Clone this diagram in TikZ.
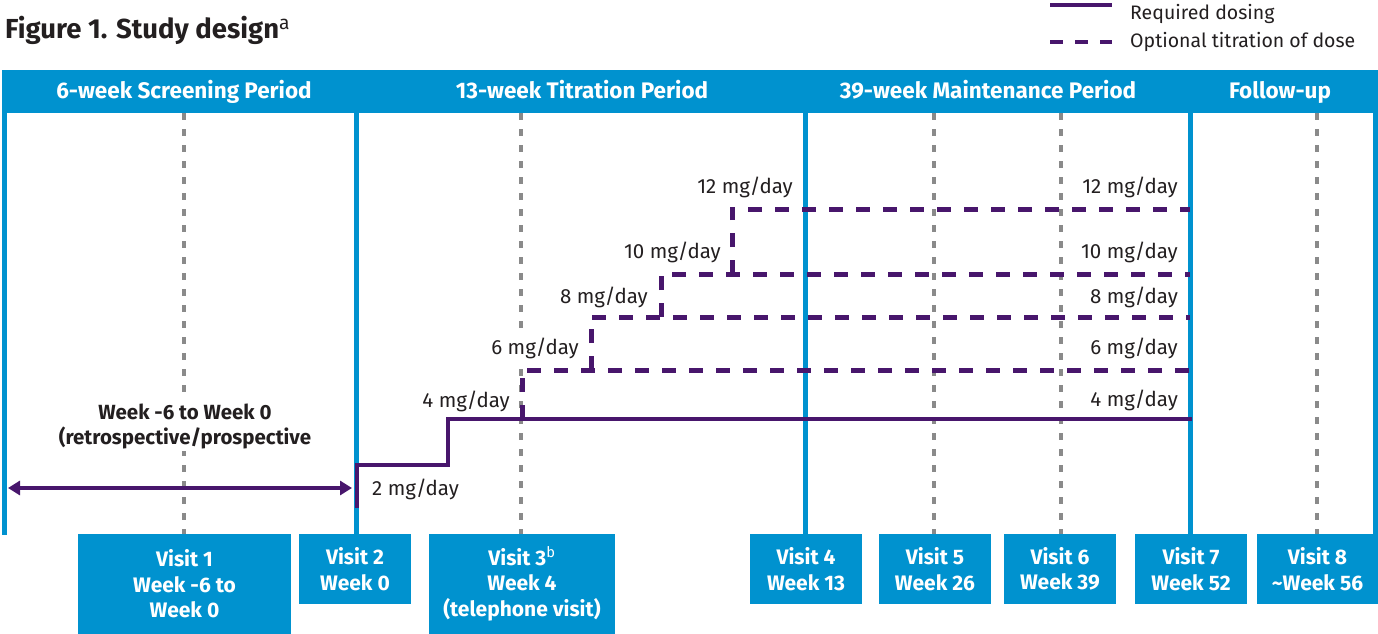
\documentclass[tikz,border=0pt]{standalone}
\usepackage{fontspec}
\setmainfont{Fira Sans}
\usetikzlibrary{arrows.meta}

\definecolor{studyblue}{RGB}{0,146,207}
\definecolor{dosepurple}{RGB}{72,22,108}
\definecolor{visitgray}{RGB}{138,138,138}
\definecolor{ink}{RGB}{35,31,32}

\begin{document}
\begin{tikzpicture}[
  x = 1pt,
  y = -1pt,
  period/.style = {
    text = white,
    font = \bfseries\fontsize{22.5}{25}\selectfont,
    anchor = base
  },
  visit/.style = {
    fill = studyblue,
    text = white,
    font = \bfseries\fontsize{21}{25.5}\selectfont,
    align = center,
    inner sep = 0pt,
    minimum height = #1
  },
  dose/.style = {
    text = ink,
    fill = white,
    font = \fontsize{20.5}{24}\selectfont,
    anchor = base east,
    inner xsep = 0pt,
    inner ysep = 2pt
  },
  divider/.style = {
    draw = studyblue,
    line width = 5pt
  },
  visitline/.style = {
    draw = visitgray,
    line width = 4pt,
    dash pattern = on 7pt off 9pt
  },
  required/.style = {
    draw = dosepurple,
    line width = 4.5pt
  },
  optional/.style = {
    draw = dosepurple,
    line width = 5pt,
    dash pattern = on 14pt off 13pt
  }
]
  \useasboundingbox (0, 0) rectangle (1378, 634);

  % title and legend
  \node[anchor = base west, inner sep = 0pt, text = ink,
    font = \bfseries\fontsize{27.5}{30}\selectfont] (title) at (5, 39)
    {Figure 1. Study design\textsuperscript{\mdseries a}};
  \coordinate (reqa) at (1050, 5);
  \coordinate (reqb) at (1112, 5);
  \coordinate (opta) at (1050, 42);
  \coordinate (optb) at (1112, 42);
  \draw[required, line width = 3.5pt] (reqa) -- (reqb);
  \draw[optional, line width = 3.5pt, dash pattern = on 13pt off 12pt] (opta) -- (optb);
  \node[dose, anchor = base west, font = \fontsize{19.5}{24}\selectfont] (reqtext) at (1130, 20) {Required dosing};
  \node[dose, anchor = base west, font = \fontsize{19.5}{24}\selectfont] (opttext) at (1130, 48) {Optional titration of dose};

  % header band
  \fill[studyblue] (2, 70) rectangle (1378, 113);
  \node[period] (screening) at (184, 99) {6-week Screening Period};
  \node[period] (titration) at (582, 99) {13-week Titration Period};
  \node[period] (maintenance) at (988, 99) {39-week Maintenance Period};
  \node[period] (followup) at (1280, 99) {Follow-up};

  % visit boxes
  \node[visit = 100pt, minimum width = 213pt] (v1) at (184.5, 584) {Visit 1\\Week -6 to\\Week 0};
  \node[visit = 70pt, minimum width = 112pt] (v2) at (355, 569) {Visit 2\\Week 0};
  \node[visit = 100pt, minimum width = 186pt] (v3) at (522, 584) {Visit 3\textsuperscript{\mdseries b}\\Week 4\\(telephone visit)};
  \node[visit = 70pt, minimum width = 112pt] (v4) at (806, 569) {Visit 4\\Week 13};
  \node[visit = 70pt, minimum width = 112pt] (v5) at (935, 569) {Visit 5\\Week 26};
  \node[visit = 70pt, minimum width = 112pt] (v6) at (1060, 569) {Visit 6\\Week 39};
  \node[visit = 70pt, minimum width = 112pt] (v7) at (1191, 569) {Visit 7\\Week 52};
  \node[visit = 70pt, minimum width = 121pt] (v8) at (1317.5, 569) {Visit 8\\{\textasciitilde}Week 56};

  % visit markers
  \draw[visitline] (184, 113) -- (184, 534);
  \draw[visitline] (521, 113) -- (521, 534);
  \draw[visitline] (934, 113) -- (934, 534);
  \draw[visitline] (1061, 113) -- (1061, 534);
  \draw[visitline] (1317, 113) -- (1317, 534);

  % dose labels (white behind them hides the markers)
  \node[dose, font = \bfseries\fontsize{20.5}{25}\selectfont, align = center,
    anchor = base] (window) at (185, 444)
    {Week -6 to Week 0\\(retrospective/prospective};
  \node[dose, anchor = base west] (l2) at (372, 495) {2 mg/day};
  \node[dose] (l4) at (510, 407) {4 mg/day};
  \node[dose] (l6) at (579, 354) {6 mg/day};
  \node[dose] (l8) at (648, 303) {8 mg/day};
  \node[dose] (l10) at (721, 258) {10 mg/day};
  \node[dose] (l12) at (793, 193) {12 mg/day};
  \node[dose] (r4) at (1178, 406) {4 mg/day};
  \node[dose] (r6) at (1178, 354) {6 mg/day};
  \node[dose] (r8) at (1178, 303) {8 mg/day};
  \node[dose] (r10) at (1178, 258) {10 mg/day};
  \node[dose] (r12) at (1178, 193) {12 mg/day};

  \draw[divider, line width = 4.5pt] (4.5, 113) -- (4.5, 535);
  \draw[divider] (356, 113) -- (356, 534);
  \draw[divider] (805, 113) -- (805, 534);
  \draw[divider] (1190, 113) -- (1190, 534);
  \draw[divider] (1375.5, 113) -- (1375.5, 534);

  % screening window
  \coordinate (scra) at (8, 488);
  \coordinate (scrb) at (352, 488);
  \draw[required, {Triangle[length = 12pt, width = 14pt]}-{Triangle[length = 12pt, width = 14pt]}]
    (scra) -- (scrb);

  % required dosing
  \coordinate (d2a) at (357, 506);
  \coordinate (d2b) at (357, 465);
  \coordinate (d4a) at (448, 465);
  \coordinate (d4b) at (448, 419);
  \coordinate (d4end) at (1190, 419);
  \draw[required, line cap = rect] (d2a) -- (d2b) -- (d4a) -- (d4b) -- (d4end);

  % optional titration
  \coordinate (d6a) at (522, 419);
  \coordinate (d6b) at (522, 370);
  \coordinate (d6end) at (1190, 370);
  \coordinate (d8a) at (591, 370);
  \coordinate (d8b) at (591, 317);
  \coordinate (d8end) at (1190, 317);
  \coordinate (d10a) at (661, 317);
  \coordinate (d10b) at (661, 274);
  \coordinate (d10end) at (1190, 274);
  \coordinate (d12a) at (732, 274);
  \coordinate (d12b) at (732, 209);
  \coordinate (d12end) at (1190, 209);
  \draw[optional] (d6a) -- (d6b) -- (d6end);
  \draw[optional] (d8a) -- (d8b) -- (d8end);
  \draw[optional] (d10a) -- (d10b) -- (d10end);
  \draw[optional] (d12a) -- (d12b) -- (d12end);
\end{tikzpicture}
\end{document}
